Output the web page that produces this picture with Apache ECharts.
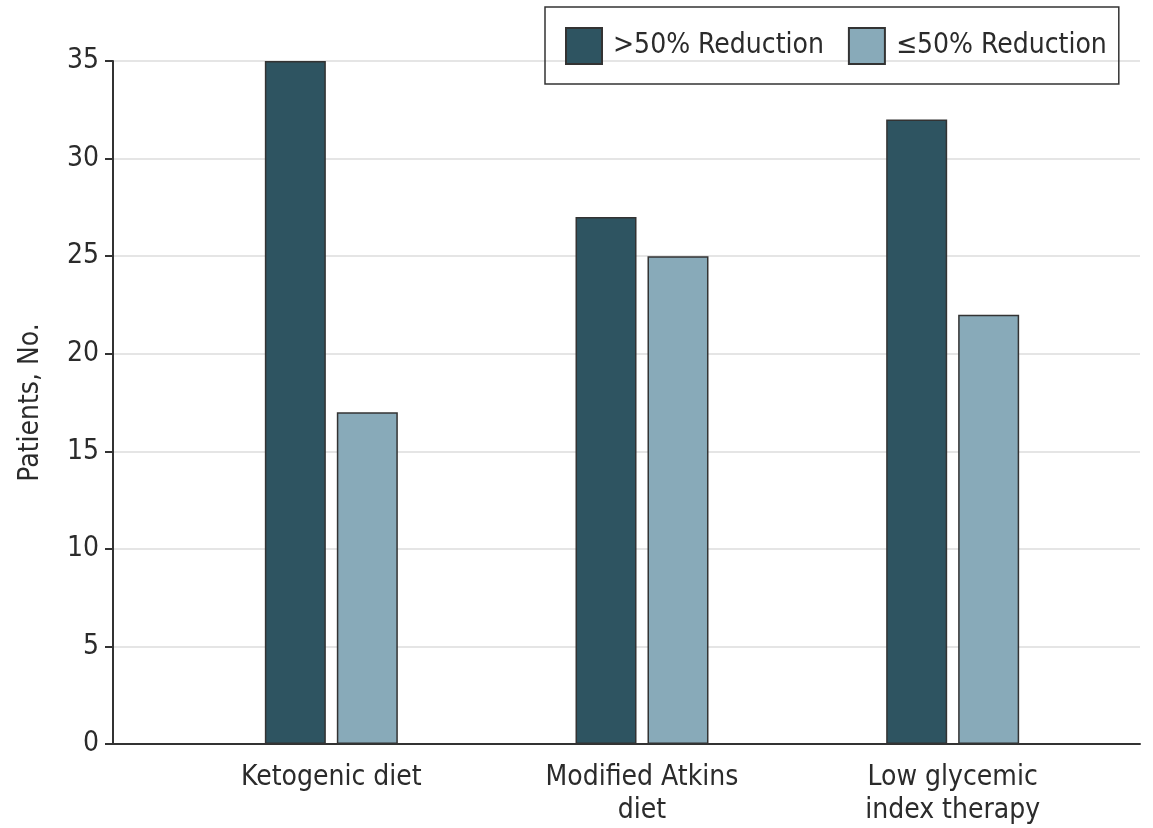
<!DOCTYPE html>
<html>
<head>
<meta charset="utf-8">
<script src="https://cdn.jsdelivr.net/npm/echarts@6/dist/echarts.min.js"></script>
<style>
html,body{margin:0;padding:0;background:#fff;}
#main{width:1153px;height:828px;}
</style>
</head>
<body>
<div id="main"></div>
<script>
const categories = ['Ketogenic diet', 'Modified Atkins\ndiet', 'Low glycemic\nindex therapy'];
const seriesNames = ['>50% Reduction', '≤50% Reduction'];
const above50 = [35, 27, 32];
const below50 = [17, 25, 22];
const yTicks = [0, 5, 10, 15, 20, 25, 30, 35];

const FONT = '"Liberation Sans Narrow", "DejaVu Sans Condensed", sans-serif';
const TXT = '#2b2b2b';
const FS = 28;
const chart = echarts.init(document.getElementById('main'), null, {renderer: 'canvas'});

const yMin = yTicks[0], yMax = yTicks[yTicks.length - 1], yStep = yTicks[1] - yTicks[0];

chart.setOption({
  animation: false,
  backgroundColor: '#fff',
  textStyle: {fontFamily: FONT},
  legend: {
    orient: 'horizontal',
    left: 545, top: 7,
    padding: [20, 12, 19, 20],
    itemWidth: 36, itemHeight: 36, itemGap: 24,
    borderColor: '#333', borderWidth: 1.5,
    icon: 'rect',
    textStyle: {fontFamily: FONT, fontSize: FS, color: TXT, padding: [0, 0, 0, 6]},
    data: seriesNames
  },
  grid: [
    {left: 113, right: 13, top: 61, bottom: 84, outerBoundsMode: 'none', containLabel: false},
    {left: 176, right: 45, top: 61, bottom: 84, outerBoundsMode: 'none', containLabel: false}
  ],
  xAxis: [
    {
      type: 'value', gridIndex: 0, min: 0, max: 1,
      axisLine: {show: true, onZero: false, lineStyle: {color: '#333', width: 2}},
      axisTick: {show: false}, axisLabel: {show: false}, splitLine: {show: false}
    },
    {
      type: 'category', gridIndex: 1, data: categories,
      axisLine: {show: false}, axisTick: {show: false},
      axisLabel: {fontFamily: FONT, fontSize: FS, color: TXT, margin: 17, lineHeight: 33}
    }
  ],
  yAxis: [
    {
      type: 'value', gridIndex: 0, min: yMin, max: yMax, interval: yStep,
      name: 'Patients, No.', nameLocation: 'middle', nameGap: 68,
      nameTextStyle: {fontFamily: FONT, fontSize: FS, color: TXT},
      axisLine: {show: true, lineStyle: {color: '#333', width: 2}},
      axisTick: {show: true, length: 8, lineStyle: {color: '#333', width: 2}},
      axisLabel: {fontFamily: FONT, fontSize: FS, color: TXT, margin: 14},
      splitLine: {show: true, lineStyle: {color: '#dcdcdc', width: 1.5}}
    },
    {
      type: 'value', gridIndex: 1, min: yMin, max: yMax, interval: yStep,
      show: false, splitLine: {show: false}
    }
  ],
  series: [
    {
      name: seriesNames[0], type: 'bar', xAxisIndex: 1, yAxisIndex: 1,
      data: above50, barWidth: 61, barGap: '18%',
      itemStyle: {color: '#2e5461', borderColor: '#333', borderWidth: 1.5}
    },
    {
      name: seriesNames[1], type: 'bar', xAxisIndex: 1, yAxisIndex: 1,
      data: below50, barWidth: 61, barGap: '18%',
      itemStyle: {color: '#88aab9', borderColor: '#333', borderWidth: 1.5}
    }
  ]
});
</script>
</body>
</html>
